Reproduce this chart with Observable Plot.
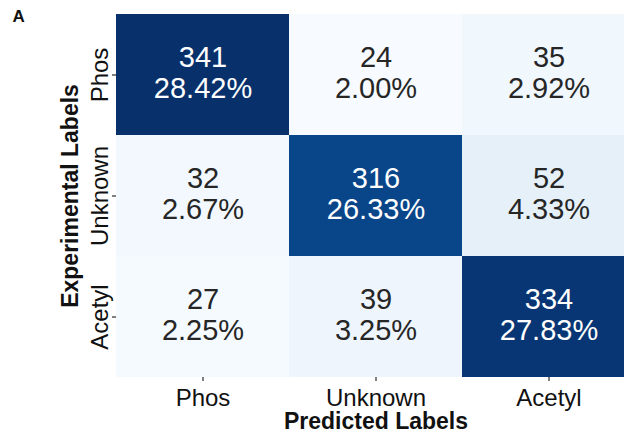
<!DOCTYPE html>
<html>
<head>
<meta charset="utf-8">
<script src="https://cdn.jsdelivr.net/npm/d3@7"></script>
<script src="https://cdn.jsdelivr.net/npm/@observablehq/plot@0.6"></script>
<style>
  html, body { margin: 0; padding: 0; background: #fff; overflow: hidden; }
  svg { display: block; }
</style>
</head>
<body>
<div id="chart"></div>
<script>
// Confusion matrix: rows are experimental labels, columns are predicted labels
const predictedLabels = ["Phos", "Unknown", "Acetyl"];
const experimentalLabels = ["Phos", "Unknown", "Acetyl"];
const countsPhos = [341, 24, 35];
const countsUnknown = [32, 316, 52];
const countsAcetyl = [27, 39, 334];

const rows = [countsPhos, countsUnknown, countsAcetyl];
const total = d3.sum(rows.flat());

const cells = [];
experimentalLabels.forEach((exp, i) => {
  predictedLabels.forEach((pred, j) => {
    const n = rows[i][j];
    cells.push({
      experimental: exp,
      predicted: pred,
      count: n,
      label: `${n}\n${(n / total * 100).toFixed(2)}%`
    });
  });
});

const font = "'Liberation Sans', Arial, Helvetica, sans-serif";
const maxCount = d3.max(cells, d => d.count);
const minCount = d3.min(cells, d => d.count);

const chart = Plot.plot({
  width: 624,
  height: 439,
  marginLeft: 116,
  marginRight: -11,
  marginTop: 14,
  marginBottom: 62,
  style: { fontFamily: font, background: "#fff", overflow: "visible" },
  x: { domain: predictedLabels, padding: 0, label: null },
  y: { domain: experimentalLabels, padding: 0, label: null },
  color: { type: "linear", domain: [minCount, maxCount], interpolate: d3.interpolateBlues },
  marks: [
    Plot.cell(cells, { x: "predicted", y: "experimental", fill: "count" }),
    Plot.text(cells, {
      x: "predicted",
      y: "experimental",
      text: "label",
      fontSize: 29,
      lineHeight: 1.07,
      dy: -2,
      fill: d => (d.count > maxCount / 2 ? "#ffffff" : "#262626")
    }),
    Plot.axisX({
      tickSize: 4,
      tickPadding: 7,
      fontSize: 24,
      label: null,
      fill: "#111"
    }),
    Plot.axisY({
      tickSize: 4,
      tickFormat: () => "",
      label: null
    }),
    // rotated row labels beside the y ticks
    Plot.text(experimentalLabels, {
      y: d => d,
      frameAnchor: "left",
      dx: -9,
      rotate: -90,
      textAnchor: "middle",
      lineAnchor: "bottom",
      fontSize: 24,
      fill: "#111"
    }),
    // axis titles
    Plot.text(["Predicted Labels"], {
      frameAnchor: "bottom",
      dy: 35,
      lineAnchor: "top",
      fontSize: 23,
      fontWeight: "bold",
      fill: "#111"
    }),
    Plot.text(["Experimental Labels"], {
      frameAnchor: "left",
      dx: -46,
      rotate: -90,
      textAnchor: "middle",
      lineAnchor: "middle",
      fontSize: 23,
      fontWeight: "bold",
      fill: "#111"
    }),
    // panel letter
    Plot.text(["A"], {
      frameAnchor: "top-left",
      dx: -104,
      dy: -5,
      textAnchor: "start",
      lineAnchor: "top",
      fontSize: 17,
      fontWeight: "bold",
      fill: "#111"
    })
  ]
});

document.getElementById("chart").append(chart);
</script>
</body>
</html>
